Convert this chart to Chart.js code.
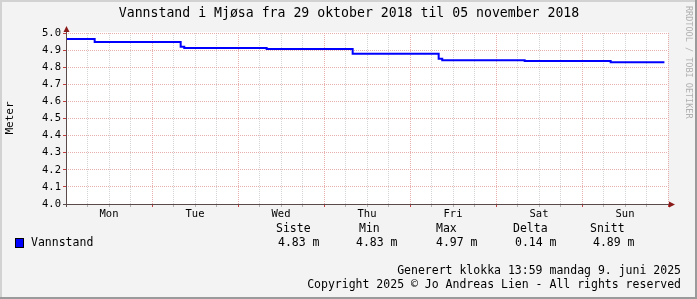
<!DOCTYPE html>
<html>
<head>
<meta charset="utf-8">
<script src="https://cdn.jsdelivr.net/npm/chart.js@4/dist/chart.umd.min.js"></script>
<style>
html, body { margin: 0; padding: 0; background: #f3f3f3; }
canvas { display: block; }
</style>
</head>
<body>
<canvas id="chart" width="697" height="299"></canvas>
<script>
// hours since Mon 29 Oct 2018 00:00, water level in metres
const hours = [0, 8, 32, 33, 56, 80, 104, 105, 128, 152, 167];
const levels = [4.965, 4.947, 4.92, 4.912, 4.906, 4.879, 4.85, 4.84, 4.836, 4.829, 4.829];
const days = ['Mon', 'Tue', 'Wed', 'Thu', 'Fri', 'Sat', 'Sun'];
const statHeads = ['Siste', 'Min', 'Max', 'Delta', 'Snitt'];
const statValues = ['4.83 m', '4.83 m', '4.97 m', '0.14 m', '4.89 m'];

const MONO = '"DejaVu Sans Mono", monospace';
const RED_GRID = 'rgba(225,150,150,0.75)';
const GRAY_GRID = 'rgba(200,200,200,0.8)';

const decor = {
    id: 'decor',
    beforeDraw(chart) {
        const { ctx, chartArea: a } = chart;
        ctx.save();
        ctx.fillStyle = '#ffffff';
        ctx.fillRect(a.left, a.top - 1, a.right - a.left, a.bottom - a.top + 1);
        ctx.restore();
    },
    afterDraw(chart) {
        const { ctx, chartArea: a } = chart;
        ctx.save();

        // axes + arrows
        ctx.strokeStyle = '#5a4a4a';
        ctx.lineWidth = 1;
        ctx.beginPath();
        ctx.moveTo(a.left + 0.5, a.bottom + 3);
        ctx.lineTo(a.left + 0.5, a.top - 4);
        ctx.moveTo(a.left - 3, a.bottom + 0.5);
        ctx.lineTo(a.right + 2, a.bottom + 0.5);
        ctx.stroke();
        ctx.fillStyle = '#8b1a1a';
        ctx.beginPath();
        ctx.moveTo(a.left + 0.5, a.top - 7);
        ctx.lineTo(a.left - 2.5, a.top - 1);
        ctx.lineTo(a.left + 3.5, a.top - 1);
        ctx.fill();
        ctx.beginPath();
        ctx.moveTo(a.right + 7, a.bottom + 0.5);
        ctx.lineTo(a.right + 1, a.bottom - 2.5);
        ctx.lineTo(a.right + 1, a.bottom + 3.5);
        ctx.fill();

        // title
        ctx.fillStyle = '#000';
        ctx.font = '13.2px ' + MONO;
        ctx.textAlign = 'center';
        ctx.textBaseline = 'middle';
        ctx.fillText('Vannstand i Mjøsa fra 29 oktober 2018 til 05 november 2018', 349, 14);

        // y title
        ctx.save();
        ctx.translate(10, 118);
        ctx.rotate(-Math.PI / 2);
        ctx.font = '11px ' + MONO;
        ctx.fillText('Meter', 0, 0);
        ctx.restore();

        // watermark
        ctx.save();
        ctx.translate(688, 6);
        ctx.rotate(Math.PI / 2);
        ctx.font = '8.5px ' + MONO;
        ctx.fillStyle = '#b0b0b0';
        ctx.textAlign = 'left';
        ctx.fillText('RRDTOOL / TOBI OETIKER', 0, 0);
        ctx.restore();

        // legend + stats
        ctx.font = '11.5px ' + MONO;
        ctx.textAlign = 'left';
        ctx.fillStyle = '#0000ff';
        ctx.fillRect(15, 238, 9, 10);
        ctx.strokeStyle = '#000';
        ctx.strokeRect(15.5, 238.5, 8, 9);
        ctx.fillStyle = '#000';
        ctx.fillText('Vannstand', 31, 243);
        const headX = [276, 359, 436, 513, 590];
        const valX = [278, 356, 436, 515, 593];
        statHeads.forEach((h, i) => ctx.fillText(h, headX[i], 229));
        statValues.forEach((v, i) => ctx.fillText(v, valX[i], 243));

        ctx.textAlign = 'right';
        ctx.fillText('Generert klokka 13:59 mandag 9. juni 2025', 681, 271);
        ctx.fillText('Copyright 2025 © Jo Andreas Lien - All rights reserved', 681, 285);

        // frame
        ctx.fillStyle = '#d2d2d2';
        ctx.fillRect(0, 0, 697, 2);
        ctx.fillRect(0, 0, 2, 299);
        ctx.fillStyle = '#9a9a9a';
        ctx.fillRect(0, 297, 697, 2);
        ctx.fillRect(695, 0, 2, 299);
        ctx.restore();
    }
};

const points = hours.map((h, i) => ({ x: h, y: levels[i] }));

new Chart(document.getElementById('chart'), {
    type: 'line',
    data: {
        datasets: [{
            label: 'Vannstand',
            data: points,
            borderColor: '#0000ff',
            borderWidth: 2,
            pointRadius: 0,
            stepped: 'before',
            fill: false
        }]
    },
    options: {
        responsive: false,
        animation: false,
        layout: { padding: { top: 33, right: 29, left: 0, bottom: 0 } },
        plugins: { legend: { display: false }, tooltip: { enabled: false } },
        scales: {
            x: {
                type: 'linear',
                min: 0,
                max: 168,
                afterFit: s => { s.height = 95; },
                border: { display: false, dash: [1, 1] },
                grid: {
                    color: c => (c.tick.value % 24 === 0 ? RED_GRID : GRAY_GRID),
                    tickColor: c => (c.tick.value % 24 === 0 ? '#c04040' : '#b0b0b0'),
                    tickLength: 3,
                    lineWidth: 1
                },
                ticks: {
                    stepSize: 6,
                    autoSkip: false,
                    maxRotation: 0,
                    padding: 1,
                    color: '#000',
                    font: { family: MONO, size: 10.5 },
                    callback: v => (v % 24 === 12 ? days[Math.floor(v / 24)] : '')
                }
            },
            y: {
                min: 4.0,
                max: 5.0,
                afterFit: s => { s.width = 66; },
                border: { display: false, dash: [1, 1] },
                grid: {
                    color: RED_GRID,
                    tickColor: '#c04040',
                    tickLength: 3,
                    lineWidth: 1
                },
                ticks: {
                    stepSize: 0.1,
                    padding: 2,
                    color: '#000',
                    font: { family: MONO, size: 10.5 },
                    callback: v => v.toFixed(1)
                }
            }
        }
    },
    plugins: [decor]
});
</script>
</body>
</html>
